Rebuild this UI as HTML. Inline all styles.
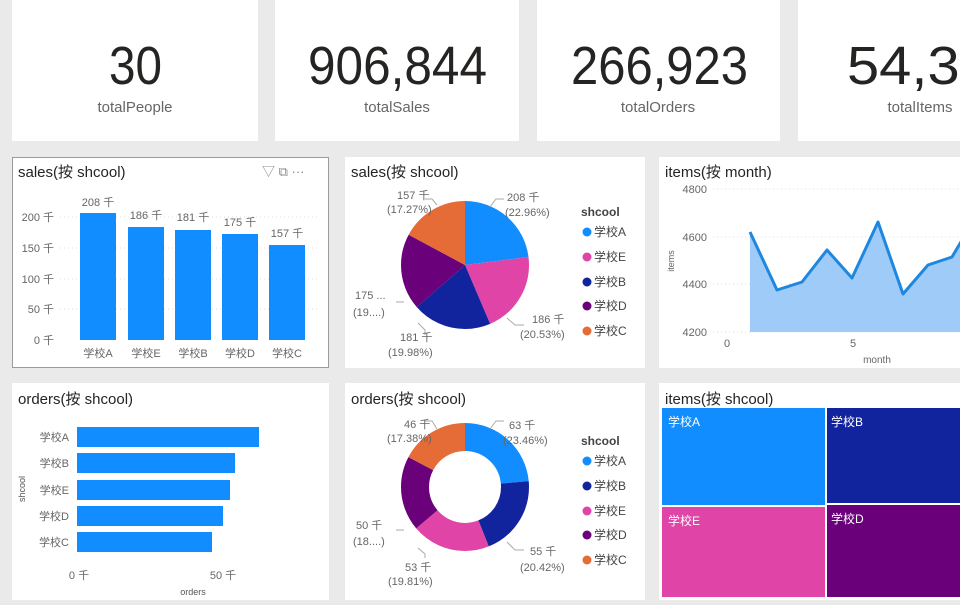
<!DOCTYPE html>
<html><head><meta charset="utf-8"><style>
body{margin:0;width:960px;height:600px;overflow:hidden;background:#eaeaea;font-family:"Liberation Sans","Noto Sans CJK SC",sans-serif;}
</style></head><body>
<svg width="960" height="600" xmlns="http://www.w3.org/2000/svg" font-family="Liberation Sans, Noto Sans CJK SC, sans-serif">
<rect width="960" height="600" fill="#eaeaea"/>
<g fill="#fff">
<rect x="12" y="0" width="246" height="141"/>
<rect x="275" y="0" width="244" height="141"/>
<rect x="537" y="0" width="243" height="141"/>
<rect x="798" y="0" width="244" height="141"/>
</g>
<g fill="#252423" font-size="54">
<text x="109" y="84" textLength="53" lengthAdjust="spacingAndGlyphs">30</text>
<text x="308" y="84" textLength="179" lengthAdjust="spacingAndGlyphs">906,844</text>
<text x="571" y="84" textLength="177" lengthAdjust="spacingAndGlyphs">266,923</text>
<text x="847" y="84" textLength="177" lengthAdjust="spacingAndGlyphs">54,368</text>
</g>
<g text-anchor="middle" fill="#666" font-size="15">
<text x="135" y="112">totalPeople</text>
<text x="397" y="112">totalSales</text>
<text x="658" y="112">totalOrders</text>
<text x="920" y="112">totalItems</text>
</g>
<g fill="#fff">
<rect x="12" y="157" width="317" height="211"/>
<rect x="345" y="157" width="300" height="211"/>
<rect x="659" y="157" width="310" height="211"/>
<rect x="12" y="383" width="317" height="220"/>
<rect x="345" y="383" width="300" height="220"/>
<rect x="659" y="383" width="310" height="220"/>
</g>
<rect x="12.5" y="157.5" width="316" height="210" fill="none" stroke="#9a9a9a" stroke-width="1"/>
<g font-size="15" fill="#252423">
<text x="18" y="177">sales(按 shcool)</text>
<text x="351" y="177">sales(按 shcool)</text>
<text x="665" y="177">items(按 month)</text>
<text x="18" y="404">orders(按 shcool)</text>
<text x="351" y="404">orders(按 shcool)</text>
<text x="665" y="404">items(按 shcool)</text>
</g>
<text x="262" y="176" font-size="13" fill="#888">▽  ⧉  ···</text>
<g stroke="#ddd" stroke-dasharray="1 3"><line x1="60" y1="217" x2="320" y2="217"/><line x1="60" y1="248" x2="320" y2="248"/><line x1="60" y1="279" x2="320" y2="279"/><line x1="60" y1="309" x2="320" y2="309"/></g>
<g font-size="11" fill="#666" text-anchor="end">
<text x="54" y="221">200 千</text><text x="54" y="252">150 千</text><text x="54" y="283">100 千</text><text x="54" y="313">50 千</text><text x="54" y="344">0 千</text>
</g>
<g fill="#118dff">
<rect x="80" y="213" width="36" height="127"/>
<rect x="128" y="227" width="36" height="113"/>
<rect x="175" y="230" width="36" height="110"/>
<rect x="222" y="234" width="36" height="106"/>
<rect x="269" y="245" width="36" height="95"/>
</g>
<g font-size="11" fill="#666" text-anchor="middle">
<text x="98" y="206">208 千</text><text x="146" y="219">186 千</text><text x="193" y="221">181 千</text><text x="240" y="226">175 千</text><text x="287" y="237">157 千</text>
<text x="98" y="357">学校A</text><text x="146" y="357">学校E</text><text x="193" y="357">学校B</text><text x="240" y="357">学校D</text><text x="287" y="357">学校C</text>
</g>
<g transform="translate(465 265) rotate(-90)" fill="none" stroke-width="64">
<circle r="32" stroke="#118dff" stroke-dasharray="46.16 201.06" stroke-dashoffset="0"/>
<circle r="32" stroke="#e044a7" stroke-dasharray="41.28 201.06" stroke-dashoffset="-46.16"/>
<circle r="32" stroke="#12239e" stroke-dasharray="40.17 201.06" stroke-dashoffset="-87.44"/>
<circle r="32" stroke="#6b007b" stroke-dasharray="38.72 201.06" stroke-dashoffset="-127.61"/>
<circle r="32" stroke="#e66c37" stroke-dasharray="34.73 201.06" stroke-dashoffset="-166.33"/>
</g>
<g stroke="#aaa" fill="none"><polyline points="490,207 496,199 504,199"/><polyline points="437,205 432,199 425,199"/><polyline points="507,318 515,325 524,325"/><polyline points="418,323 425,330 425,335"/><polyline points="404,302 396,302"/></g>
<g font-size="11" fill="#666">
<text x="507" y="201">208 千</text><text x="505" y="216">(22.96%)</text>
<text x="397" y="199">157 千</text><text x="387" y="213">(17.27%)</text>
<text x="532" y="323">186 千</text><text x="520" y="338">(20.53%)</text>
<text x="400" y="341">181 千</text><text x="388" y="356">(19.98%)</text>
<text x="355" y="299">175 ...</text><text x="353" y="316">(19....)</text>
</g>
<g font-size="12" fill="#444">
<text x="581" y="216" font-weight="bold" font-size="12">shcool</text>
<circle cx="587" cy="232" r="4.5" fill="#118dff"/><text x="594" y="236">学校A</text>
<circle cx="587" cy="257" r="4.5" fill="#e044a7"/><text x="594" y="261">学校E</text>
<circle cx="587" cy="282" r="4.5" fill="#12239e"/><text x="594" y="286">学校B</text>
<circle cx="587" cy="306" r="4.5" fill="#6b007b"/><text x="594" y="310">学校D</text>
<circle cx="587" cy="331" r="4.5" fill="#e66c37"/><text x="594" y="335">学校C</text>
</g>
<g stroke="#ddd" stroke-dasharray="1 3"><line x1="713" y1="189" x2="960" y2="189"/><line x1="713" y1="237" x2="960" y2="237"/><line x1="713" y1="284" x2="960" y2="284"/><line x1="713" y1="332" x2="960" y2="332"/></g>
<g font-size="11" fill="#666" text-anchor="end"><text x="707" y="193">4800</text><text x="707" y="241">4600</text><text x="707" y="288">4400</text><text x="707" y="336">4200</text></g>
<text transform="translate(674 261) rotate(-90)" font-size="9" fill="#666" text-anchor="middle">items</text>
<g font-size="11" fill="#666" text-anchor="middle"><text x="727" y="347">0</text><text x="853" y="347">5</text></g>
<text x="877" y="363" font-size="10" fill="#666" text-anchor="middle">month</text>
<polygon points="750,332 750,232 777,290 802,282 827,250 852,278 878,222 903,294 928,265 952,257 960,245 960,332" fill="#9ecbf7"/>
<polyline points="750,232 777,290 802,282 827,250 852,278 878,222 903,294 928,265 952,257 962,240" fill="none" stroke="#1f87dd" stroke-width="3" stroke-linejoin="round"/>
<g fill="#118dff">
<rect x="77" y="427" width="182" height="20"/>
<rect x="77" y="453" width="158" height="20"/>
<rect x="77" y="480" width="153" height="20"/>
<rect x="77" y="506" width="146" height="20"/>
<rect x="77" y="532" width="135" height="20"/>
</g>
<g font-size="11" fill="#666" text-anchor="end">
<text x="69" y="441">学校A</text><text x="69" y="467">学校B</text><text x="69" y="494">学校E</text><text x="69" y="520">学校D</text><text x="69" y="546">学校C</text>
</g>
<text transform="translate(25 489) rotate(-90)" font-size="9" fill="#555" text-anchor="middle">shcool</text>
<g font-size="11" fill="#666" text-anchor="middle"><text x="79" y="579">0 千</text><text x="223" y="579">50 千</text></g>
<text x="193" y="595" font-size="9" fill="#555" text-anchor="middle">orders</text>
<g transform="translate(465 487) rotate(-90)" fill="none" stroke-width="28">
<circle r="50" stroke="#118dff" stroke-dasharray="73.70 314.16" stroke-dashoffset="0"/>
<circle r="50" stroke="#12239e" stroke-dasharray="64.15 314.16" stroke-dashoffset="-73.70"/>
<circle r="50" stroke="#e044a7" stroke-dasharray="62.24 314.16" stroke-dashoffset="-137.85"/>
<circle r="50" stroke="#6b007b" stroke-dasharray="59.47 314.16" stroke-dashoffset="-200.09"/>
<circle r="50" stroke="#e66c37" stroke-dasharray="54.60 314.16" stroke-dashoffset="-259.56"/>
</g>
<g stroke="#aaa" fill="none"><polyline points="490,429 496,421 504,421"/><polyline points="437,429 432,421 425,421"/><polyline points="507,542 515,550 524,550"/><polyline points="418,548 425,554 425,558"/><polyline points="404,530 396,530"/></g>
<g font-size="11" fill="#666">
<text x="509" y="429">63 千</text><text x="503" y="444">(23.46%)</text>
<text x="404" y="428">46 千</text><text x="387" y="442">(17.38%)</text>
<text x="530" y="555">55 千</text><text x="520" y="571">(20.42%)</text>
<text x="405" y="571">53 千</text><text x="388" y="585">(19.81%)</text>
<text x="356" y="529">50 千</text><text x="353" y="545">(18....)</text>
</g>
<g font-size="12" fill="#444">
<text x="581" y="445" font-weight="bold">shcool</text>
<circle cx="587" cy="461" r="4.5" fill="#118dff"/><text x="594" y="465">学校A</text>
<circle cx="587" cy="486" r="4.5" fill="#12239e"/><text x="594" y="490">学校B</text>
<circle cx="587" cy="511" r="4.5" fill="#e044a7"/><text x="594" y="515">学校E</text>
<circle cx="587" cy="535" r="4.5" fill="#6b007b"/><text x="594" y="539">学校D</text>
<circle cx="587" cy="560" r="4.5" fill="#e66c37"/><text x="594" y="564">学校C</text>
</g>
<rect x="662" y="408" width="163" height="97" fill="#118dff"/>
<rect x="827" y="408" width="140" height="95" fill="#12239e"/>
<rect x="662" y="507" width="163" height="90" fill="#e044a7"/>
<rect x="827" y="505" width="140" height="92" fill="#6b007b"/>
<g font-size="12" fill="#fff">
<text x="668" y="426">学校A</text><text x="831" y="426">学校B</text><text x="668" y="525">学校E</text><text x="831" y="523">学校D</text>
</g>
</svg>
</body></html>
